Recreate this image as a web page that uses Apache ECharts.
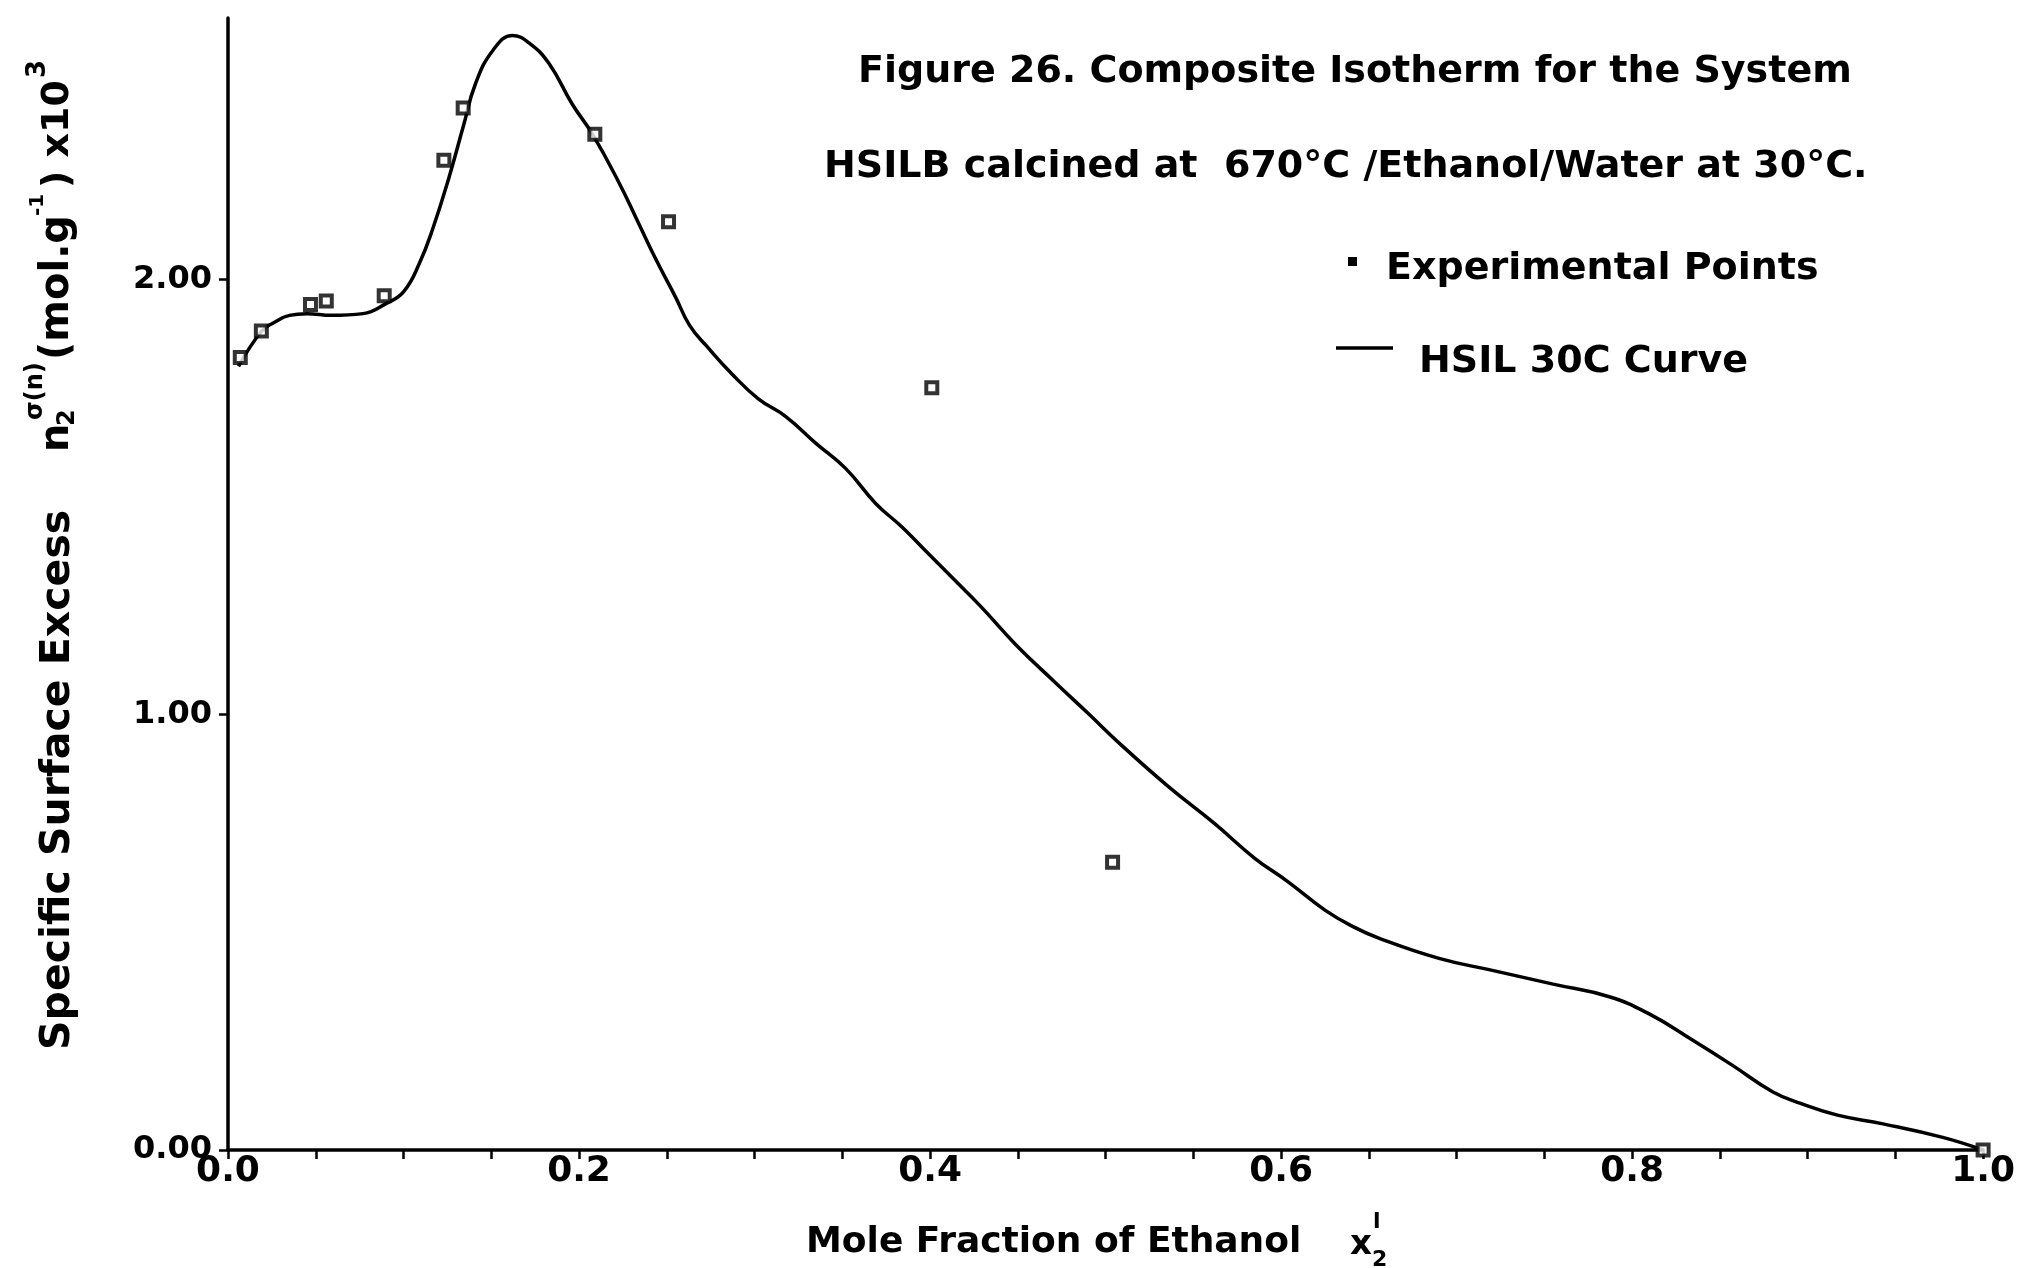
<!DOCTYPE html>
<html>
<head>
<meta charset="utf-8">
<script src="https://cdn.jsdelivr.net/npm/echarts@6/dist/echarts.min.js"></script>
<style>
html,body{margin:0;padding:0;background:#fff;}
#chart{width:2018px;height:1268px;}
</style>
</head>
<body>
<div id="chart"></div>
<script>
// ---- data ----
const curveX = [0.006,0.019,0.026,0.035,0.045,0.059,0.077,0.090,0.100,0.109,0.117,0.126,0.134,0.141,0.151,0.162,0.172,0.183,0.196,0.208,0.223,0.234,0.244,0.255,0.263,0.273,0.287,0.302,0.318,0.335,0.352,0.369,0.384,0.397,0.414,0.429,0.449,0.471,0.490,0.509,0.536,0.562,0.585,0.604,0.625,0.641,0.656,0.690,0.721,0.755,0.787,0.810,0.833,0.857,0.880,0.896,0.917,0.943,0.977,1.000];
const curveY = [1.800,1.880,1.900,1.917,1.921,1.917,1.921,1.944,1.971,2.036,2.120,2.235,2.350,2.449,2.526,2.560,2.541,2.495,2.403,2.331,2.220,2.128,2.044,1.959,1.894,1.845,1.783,1.726,1.684,1.623,1.565,1.485,1.431,1.378,1.309,1.248,1.160,1.075,1.003,0.930,0.834,0.750,0.670,0.616,0.551,0.513,0.486,0.440,0.412,0.381,0.352,0.312,0.256,0.195,0.134,0.107,0.080,0.060,0.029,0.000];
const pointX = [0.007,0.019,0.047,0.056,0.089,0.123,0.134,0.209,0.251,0.401,0.504,1.000];
const pointY = [1.820,1.881,1.942,1.950,1.962,2.273,2.393,2.333,2.132,1.751,0.661,0.000];
const xLabelValues = [0, 0.2, 0.4, 0.6, 0.8, 1.0];
const xTickValues = [0,0.05,0.1,0.15,0.2,0.25,0.3,0.35,0.4,0.45,0.5,0.55,0.6,0.65,0.7,0.75,0.8,0.85,0.9,0.95,1.0];
const yLabelValues = [0, 1, 2];
const seriesNames = ['Experimental Points', 'HSIL 30C Curve'];

const FONT = 'DejaVu Sans';
const chart = echarts.init(document.getElementById('chart'));

const curveData = curveX.map((x, i) => [x, curveY[i]]);
const pointData = pointX.map((x, i) => [x, pointY[i]]);

function t(text, x, y, size, extra) {
  return Object.assign({
    type: 'text', x: x, y: y,
    style: { text: text, font: 'bold ' + size + 'px "' + FONT + '"', fill: '#000',
             textAlign: 'left', textVerticalAlign: 'middle', verticalAlign: 'middle' }
  }, extra || {});
}
const R = { rotation: Math.PI / 2 };

chart.setOption({
  backgroundColor: '#fff',
  animation: false,
  grid: { left: 228, right: 31, top: 18, bottom: 118, containLabel: false },
  xAxis: {
    type: 'value', min: 0, max: 1,
    axisLine: { show: true, lineStyle: { color: '#000', width: 3.5 } },
    axisTick: { show: true, customValues: xTickValues, length: 9, inside: false, lineStyle: { color: '#000', width: 2.5 } },
    axisLabel: { customValues: xLabelValues, margin: 4, color: '#000', fontFamily: FONT, fontWeight: 'bold', fontSize: 36,
                 formatter: v => v.toFixed(1) },
    splitLine: { show: false }
  },
  yAxis: {
    type: 'value', min: 0, max: 2.6,
    axisLine: { show: true, lineStyle: { color: '#000', width: 3.5 } },
    axisTick: { show: true, customValues: yLabelValues, length: 9, lineStyle: { color: '#000', width: 2.5 } },
    axisLabel: { customValues: yLabelValues, margin: 16, color: '#000', fontFamily: FONT, fontWeight: 'bold', fontSize: 32,
                 formatter: v => v.toFixed(2) },
    splitLine: { show: false }
  },
  series: [
    {
      name: seriesNames[1], type: 'line', data: curveData, smooth: 0.45, symbol: 'none', clip: false,
      lineStyle: { color: '#000', width: 3.5 }, z: 2
    },
    {
      name: seriesNames[0], type: 'scatter', data: pointData, symbol: 'rect', symbolSize: 11, clip: false,
      itemStyle: { color: '#fff', borderColor: '#000', borderWidth: 4 }, z: 3
    }
  ],
  graphic: [
    t('Figure 26. Composite Isotherm for the System', 858, 72, 38),
    t('HSILB calcined at  670\u00B0C /Ethanol/Water at 30\u00B0C.', 824, 167, 38),
    { type: 'rect', shape: { x: 1348, y: 257, width: 9, height: 9 }, style: { fill: '#000' } },
    t(seriesNames[0], 1386, 269, 38),
    { type: 'line', shape: { x1: 1336, y1: 348, x2: 1393, y2: 348 }, style: { stroke: '#000', lineWidth: 3.5 } },
    t(seriesNames[1], 1419, 362, 38),
    // x-axis title
    t('Mole Fraction of Ethanol', 806, 1243, 36),
    t('x', 1350, 1245, 34),
    t('l', 1373, 1222, 22),
    t('2', 1372, 1260, 22),
    // y-axis title (rotated)
    t('Specific Surface Excess', 58, 1050, 41, R),
    t('n', 58, 452, 40, R),
    t('2', 68, 426, 24, R),
    t('\u03C3(n)', 36, 420, 24, R),
    t('(mol.g', 58, 360, 40, R),
    t('-1', 38, 216, 20, R),
    t(') x10', 58, 188, 38, R),
    t('3', 38, 78, 26, R)
  ]
});
</script>
</body>
</html>
